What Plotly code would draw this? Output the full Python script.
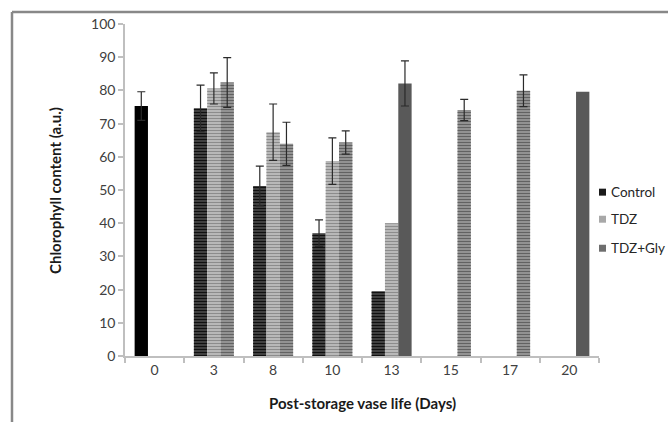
import plotly.graph_objects as go

days = ["0", "3", "8", "10", "13", "15", "17", "20"]
control = [75.3, 74.6, 51.2, 37.0, 19.5, None, None, None]
control_err = [4.3, 7.0, 6.0, 4.0, None, None, None, None]
tdz = [None, 80.6, 67.4, 58.7, 40.0, None, None, None]
tdz_err = [None, 4.7, 8.5, 7.0, None, None, None, None]
tdzgly = [None, 82.4, 63.9, 64.3, 82.1, 74.1, 79.9, 79.6]
tdzgly_err = [None, 7.5, 6.5, 3.5, 6.8, 3.2, 4.8, None]

series_names = ["Control", "TDZ", "TDZ+Gly"]
legend_colors = ["#1a1a1a", "#a8a8a8", "#6e6e6e"]

# per-bar fill styles: True = horizontally striped, False = solid
ctrl_striped = [False, True, True, True, True, True, True, True]
ctrl_bg = ["#000000"] + ["#4a4a4a"] * 7
ctrl_fg = "#101010"
tdz_striped = [True] * 8
tdz_bg = ["#c0c0c0"] * 8
tdz_fg = "#8c8c8c"
gly_striped = [True, True, True, True, False, True, True, False]
gly_bg = ["#9c9c9c"] * 4 + ["#595959", "#9c9c9c", "#9c9c9c", "#595959"]
gly_fg = "#626262"

fig = go.Figure()


def add_bar(vals, striped, bg, fg, grp):
    fig.add_trace(go.Bar(
        x=days, y=vals, showlegend=False, offsetgroup=grp,
        marker=dict(color=bg, line=dict(width=0)), hoverinfo="skip",
    ))
    sv = [v if s else None for v, s in zip(vals, striped)]
    fig.add_trace(go.Bar(
        x=days, y=sv, showlegend=False, offsetgroup=grp,
        marker=dict(color=fg, line=dict(width=0),
                    pattern=dict(shape="-", fgcolor=fg, size=3,
                                 solidity=0.45, fillmode="replace")),
        hoverinfo="skip",
    ))


def add_err(vals, errs, grp):
    vv = [v if e is not None else None for v, e in zip(vals, errs)]
    ee = [e if e is not None else 0 for e in errs]
    fig.add_trace(go.Bar(
        x=days, y=vv, showlegend=False, offsetgroup=grp,
        marker=dict(color="rgba(0,0,0,0)", line=dict(width=0)),
        error_y=dict(type="data", array=ee, visible=True,
                     color="#2a2a2a", thickness=1.2, width=4),
    ))


add_bar(control, ctrl_striped, ctrl_bg, ctrl_fg, "c")
add_bar(tdz, tdz_striped, tdz_bg, tdz_fg, "t")
add_bar(tdzgly, gly_striped, gly_bg, gly_fg, "g")
add_err(control, control_err, "c")
add_err(tdz, tdz_err, "t")
add_err(tdzgly, tdzgly_err, "g")

font_family = "Lato, Open Sans, sans-serif"

# manual legend (paper coords)
leg_y = [0.4935, 0.412, 0.3246]
shapes = []
annotations = []
for name, col, yy in zip(series_names, legend_colors, leg_y):
    shapes.append(dict(type="rect", xref="paper", yref="paper",
                       x0=1.0, x1=1.0148, y0=yy - 0.0105, y1=yy + 0.0105,
                       fillcolor=col, line=dict(width=0)))
    annotations.append(dict(text=name, xref="paper", yref="paper",
                            x=1.0215, y=yy, xanchor="left", yanchor="middle",
                            showarrow=False,
                            font=dict(size=13.5, color="#262626")))

annotations += [
    dict(text="<b>Post-storage vase life (Days)</b>", xref="paper",
         yref="paper", x=0.5, y=-0.1405, xanchor="center",
         yanchor="middle", showarrow=False,
         font=dict(size=15, color="#1a1a1a")),
    dict(text="<b>Chlorophyll content (a.u.)</b>", xref="paper",
         yref="paper", x=-0.1477, y=0.5, xanchor="center",
         yanchor="middle", textangle=-90, showarrow=False,
         font=dict(size=15, color="#1a1a1a")),
]

shapes += [
    dict(type="line", xref="paper", yref="paper", x0=-0.2384, x1=1.2,
         y0=1.0362, y1=1.0362, line=dict(color="#888888", width=2.5)),
    dict(type="line", xref="paper", yref="paper", x0=-0.2384,
         x1=-0.2384, y0=1.0362, y1=-0.3,
         line=dict(color="#888888", width=2.5)),
]

fig.update_layout(
    width=668, height=422,
    margin=dict(l=125, r=69, t=24, b=66, autoexpand=False),
    paper_bgcolor="white", plot_bgcolor="white",
    barmode="group", bargap=0.325, bargroupgap=0,
    font=dict(family=font_family, size=14, color="#404040"),
    showlegend=False,
    xaxis=dict(type="category", showgrid=False, showline=True,
               linecolor="#bfbfbf", linewidth=1.5,
               ticks="outside", tickson="boundaries", ticklen=5,
               tickcolor="#bfbfbf", tickwidth=1.5,
               tickfont=dict(size=14, color="#404040")),
    yaxis=dict(range=[0, 100], dtick=10, showgrid=False, showline=True,
               linecolor="#bfbfbf", linewidth=1.5, zeroline=False,
               ticks="outside", ticklen=5, tickcolor="#bfbfbf",
               tickwidth=1.5, tickfont=dict(size=14, color="#404040")),
    annotations=annotations,
    shapes=shapes,
)

fig.write_html("out.html", config={"displayModeBar": False},
               post_script="document.body.style.margin='0px';")
